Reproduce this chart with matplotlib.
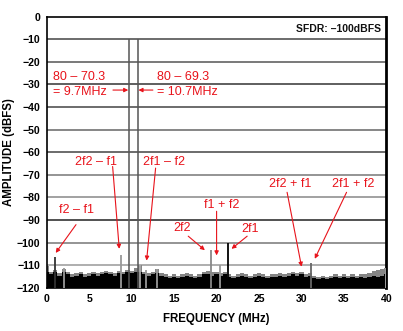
import numpy as np
import matplotlib
matplotlib.use("Agg")
import matplotlib.pyplot as plt

plt.rcParams['font.family'] = ['Liberation Sans', 'DejaVu Sans']

# ---- data ----
floor_freq = [i * 0.5 for i in range(81)]
floor_black = [-113, -114, -113, -114.5, -113, -114, -115, -114.5, -114, -115,
               -114.5, -114, -114.5, -114, -113.5, -114, -114.5, -113.5, -114, -113,
               -113.5, -113, -113, -114, -114.5, -114, -113.5, -114.5, -115, -115.5,
               -115, -115.5, -115, -114.5, -115, -115.5, -115, -114, -114, -114.5,
               -114, -114.5, -114, -115, -115.5, -115, -114.5, -115, -115.5, -115,
               -114.5, -115, -115.5, -115, -115, -114.5, -115, -114.5, -114, -114.5,
               -114, -115, -114.5, -115.5, -116, -115.5, -116, -115.5, -115, -115.5,
               -115, -115.5, -115, -115.5, -115, -115.5, -115, -114.5, -115, -114.5, -114]
floor_gray = [-110.5, -113, -112, -113.5, -111.5, -113, -114, -113.5, -113, -114,
              -113.5, -113, -113.5, -113, -112.5, -113, -113.5, -112.5, -113, -112,
              -112.5, -111, -110, -113, -113.5, -113, -111.5, -113.5, -114, -114.5,
              -114, -114.5, -114, -113.5, -114, -114.5, -114, -113, -112.5, -113,
              -113, -113.5, -113, -114, -114.5, -114, -113.5, -114, -114.5, -114,
              -113.5, -114, -114.5, -114, -114, -113.5, -114, -113.5, -113, -113.5,
              -113, -114, -113.5, -114.5, -115, -114.5, -115, -114.5, -114, -114.5,
              -114, -114.5, -114, -114.5, -114, -114, -113.5, -112.5, -112, -111.5, -111]

spur_freq = [1.0, 2.0, 8.7, 11.0, 11.7, 13.0, 19.4, 20.4, 21.4, 31.1, 39.9]
spur_level = [-106.5, -111, -105.5, -110, -112, -111.5, -103, -110, -100, -109, -111]
spur_color = ['#333333', '#999999', '#999999', '#aaaaaa', '#999999', '#999999',
              '#888888', '#999999', '#000000', '#666666', '#aaaaaa']

tone_freq = [9.7, 10.7]
tone_level = [-10, -10]

grid_levels = [-10, -20, -30, -40, -50, -60, -70, -80, -90, -100, -110]
grid_colors = ['#444444', '#555555', '#333333', '#444444', '#666666', '#444444',
               '#777777', '#888888', '#222222', '#777777', '#999999']

x_ticks = [0, 5, 10, 15, 20, 25, 30, 35, 40]
y_ticks = [0, -10, -20, -30, -40, -50, -60, -70, -80, -90, -100, -110, -120]

# annotations: text, text pos (x, y), arrow start, arrow end
labels = [
    ("2f2 – f1", (5.86, -64.2), (7.76, -66.3), (8.54, -102.7)),
    ("2f1 – f2", (13.86, -64.2), (12.82, -67.0), (11.76, -107.9)),
    ("f2 – f1", (3.47, -85.7), (3.45, -92.0), (1.06, -104.5)),
    ("2f2", (15.98, -93.7), (16.66, -97.1), (18.62, -103.3)),
    ("f1 + f2", (20.6, -83.5), (20.0, -86.1), (20.0, -105.6)),
    ("2f1", (23.98, -93.9), (23.6, -97.1), (21.76, -102.7)),
    ("2f2 + f1", (28.62, -73.9), (28.3, -77.7), (30.0, -110.6)),
    ("2f1 + f2", (36.1, -73.9), (35.3, -77.7), (31.56, -107.1)),
]

fig = plt.figure(figsize=(4.03, 3.31), dpi=100)
ax = fig.add_axes([0.1159, 0.13, 0.959 - 0.1159, 0.950 - 0.13])
ax.set_xlim(0, 40)
ax.set_ylim(-120, 0)

for lv, c in zip(grid_levels, grid_colors):
    ax.axhline(lv, color=c, lw=1.1, zorder=1)

red = '#e8131b'
fs_red = 9

# noise floor
ax.fill_between(floor_freq, -120, floor_gray, step='mid', color='#858585', lw=0, zorder=2)
ax.fill_between(floor_freq, -120, floor_black, step='mid', color='#000000', lw=0, zorder=3)

# spurs
ax.vlines(spur_freq, -120, spur_level, colors=spur_color, lw=1.3, zorder=4)
ax.vlines(tone_freq, -120, tone_level, colors='#555555', lw=1.1, zorder=4)

# tone annotations
ax.text(0.78, -26.6, "80 – 70.3", color=red, fontsize=fs_red, va='center', ha='left')
ax.text(0.78, -33.2, "= 9.7MHz", color=red, fontsize=fs_red, va='center', ha='left')
ax.text(12.94, -26.6, "80 – 69.3", color=red, fontsize=fs_red, va='center', ha='left')
ax.text(12.98, -33.2, "= 10.7MHz", color=red, fontsize=fs_red, va='center', ha='left')
arrow_kw = dict(arrowstyle='-|>', color=red, lw=0.8, mutation_scale=6, shrinkA=0, shrinkB=0)
ax.annotate("", xy=(9.6, -32.5), xytext=(7.8, -32.5), arrowprops=arrow_kw)
ax.annotate("", xy=(10.8, -32.5), xytext=(12.5, -32.5), arrowprops=arrow_kw)

for txt, tpos, a0, a1 in labels:
    ax.text(tpos[0], tpos[1], txt, color=red, fontsize=fs_red, ha='center', va='center')
    ax.annotate("", xy=a1, xytext=a0, arrowprops=arrow_kw)

ax.text(39.4, -5.5, "SFDR: –100dBFS", color='#111111', fontsize=7.5, ha='right',
        va='center', fontweight='bold')

ax.set_xticks(x_ticks)
ax.set_yticks(y_ticks)
ax.set_xticklabels([str(v) for v in x_ticks], fontsize=7.6, fontweight='bold')
ax.set_yticklabels(["0" if v == 0 else "−%d" % abs(v) for v in y_ticks], fontsize=7.6,
                   fontweight='bold')
ax.tick_params(length=0, pad=4.5)

ax.set_xlabel("FREQUENCY (MHz)", fontsize=8.3, fontweight='bold', labelpad=6)
ax.set_ylabel("AMPLITUDE (dBFS)", fontsize=8.3, fontweight='bold', labelpad=1)

for s in ['left', 'top', 'bottom']:
    ax.spines[s].set_linewidth(1.2)
ax.spines['right'].set_linewidth(2.0)

fig.savefig("out.png", dpi=100)
